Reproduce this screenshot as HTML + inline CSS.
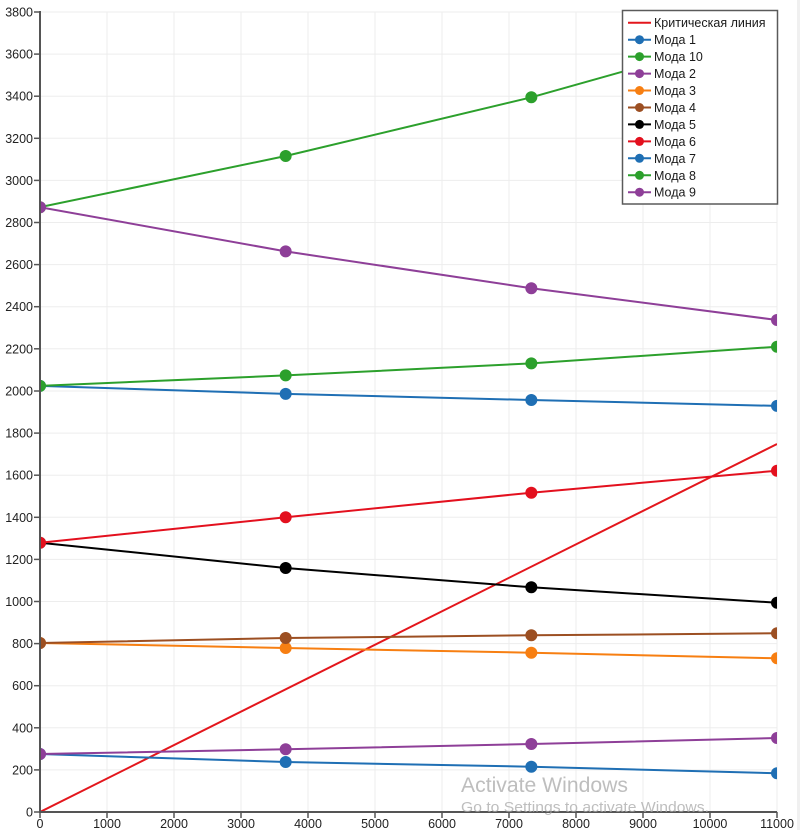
<!DOCTYPE html>
<html>
<head>
<meta charset="utf-8">
<style>
  html,body{margin:0;padding:0;background:#fff;}
  svg{display:block;}
  text{font-family:"Liberation Sans",Arial,sans-serif;}
</style>
</head>
<body>
<svg width="800" height="830" viewBox="0 0 800 830" xmlns="http://www.w3.org/2000/svg">
  <defs>
    <clipPath id="plot"><rect x="40" y="12" width="737" height="800"/></clipPath>
  </defs>
  <rect x="0" y="0" width="800" height="830" fill="#fff"/>
  <rect x="797" y="0" width="3" height="830" fill="#f0f0f0"/>

  <!-- grid -->
  <g stroke="#ededed" stroke-width="1">
    <line x1="40" x2="777" y1="769.9" y2="769.9"/>
    <line x1="40" x2="777" y1="727.8" y2="727.8"/>
    <line x1="40" x2="777" y1="685.7" y2="685.7"/>
    <line x1="40" x2="777" y1="643.6" y2="643.6"/>
    <line x1="40" x2="777" y1="601.5" y2="601.5"/>
    <line x1="40" x2="777" y1="559.4" y2="559.4"/>
    <line x1="40" x2="777" y1="517.3" y2="517.3"/>
    <line x1="40" x2="777" y1="475.2" y2="475.2"/>
    <line x1="40" x2="777" y1="433.1" y2="433.1"/>
    <line x1="40" x2="777" y1="391.0" y2="391.0"/>
    <line x1="40" x2="777" y1="348.8" y2="348.8"/>
    <line x1="40" x2="777" y1="306.7" y2="306.7"/>
    <line x1="40" x2="777" y1="264.6" y2="264.6"/>
    <line x1="40" x2="777" y1="222.5" y2="222.5"/>
    <line x1="40" x2="777" y1="180.4" y2="180.4"/>
    <line x1="40" x2="777" y1="138.3" y2="138.3"/>
    <line x1="40" x2="777" y1="96.2" y2="96.2"/>
    <line x1="40" x2="777" y1="54.1" y2="54.1"/>
    <line x1="40" x2="777" y1="12" y2="12"/>
    <line y1="12" y2="812" x1="107" x2="107"/>
    <line y1="12" y2="812" x1="174" x2="174"/>
    <line y1="12" y2="812" x1="241" x2="241"/>
    <line y1="12" y2="812" x1="308" x2="308"/>
    <line y1="12" y2="812" x1="375" x2="375"/>
    <line y1="12" y2="812" x1="442" x2="442"/>
    <line y1="12" y2="812" x1="509" x2="509"/>
    <line y1="12" y2="812" x1="576" x2="576"/>
    <line y1="12" y2="812" x1="643" x2="643"/>
    <line y1="12" y2="812" x1="710" x2="710"/>
    <line y1="12" y2="812" x1="777" x2="777"/>
  </g>

  <!-- series -->
  <g clip-path="url(#plot)" fill="none" stroke-width="2">
    <!-- critical line -->
    <line x1="40" y1="812" x2="777" y2="444" stroke="#e3161c"/>
    <!-- Moda 1 -->
    <g stroke="#1f6fb4" fill="#1f6fb4">
      <polyline fill="none" points="40,385.9 285.67,393.9 531.33,400 777,405.9"/>
      <circle cx="40" cy="385.9" r="5"/><circle cx="285.67" cy="393.9" r="5"/><circle cx="531.33" cy="400" r="5"/><circle cx="777" cy="405.9" r="5"/>
    </g>
    <!-- Moda 10 -->
    <g stroke="#2ca02c" fill="#2ca02c">
      <polyline fill="none" points="40,385.9 285.67,375.4 531.33,363.4 777,346.7"/>
      <circle cx="40" cy="385.9" r="5"/><circle cx="285.67" cy="375.4" r="5"/><circle cx="531.33" cy="363.4" r="5"/><circle cx="777" cy="346.7" r="5"/>
    </g>
    <!-- Moda 3 -->
    <g stroke="#f77f12" fill="#f77f12">
      <polyline fill="none" points="40,643 285.67,648 531.33,652.7 777,658.3"/>
      <circle cx="40" cy="643" r="5"/><circle cx="285.67" cy="648" r="5"/><circle cx="531.33" cy="652.7" r="5"/><circle cx="777" cy="658.3" r="5"/>
    </g>
    <!-- Moda 4 -->
    <g stroke="#9c4f22" fill="#9c4f22">
      <polyline fill="none" points="40,643 285.67,638 531.33,635.3 777,633.3"/>
      <circle cx="40" cy="643" r="5"/><circle cx="285.67" cy="638" r="5"/><circle cx="531.33" cy="635.3" r="5"/><circle cx="777" cy="633.3" r="5"/>
    </g>
    <!-- Moda 5 -->
    <g stroke="#000" fill="#000">
      <polyline fill="none" points="40,542.7 285.67,568 531.33,587.3 777,602.7"/>
      <circle cx="40" cy="542.7" r="5"/><circle cx="285.67" cy="568" r="5"/><circle cx="531.33" cy="587.3" r="5"/><circle cx="777" cy="602.7" r="5"/>
    </g>
    <!-- Moda 6 -->
    <g stroke="#e3101e" fill="#e3101e">
      <polyline fill="none" points="40,542.7 285.67,517.3 531.33,492.7 777,470.7"/>
      <circle cx="40" cy="542.7" r="5"/><circle cx="285.67" cy="517.3" r="5"/><circle cx="531.33" cy="492.7" r="5"/><circle cx="777" cy="470.7" r="5"/>
    </g>
    <!-- Moda 7 -->
    <g stroke="#1f6fb4" fill="#1f6fb4">
      <polyline fill="none" points="40,754 285.67,762 531.33,766.7 777,773.3"/>
      <circle cx="40" cy="754" r="5"/><circle cx="285.67" cy="762" r="5"/><circle cx="531.33" cy="766.7" r="5"/><circle cx="777" cy="773.3" r="5"/>
    </g>
    <!-- Moda 2 -->
    <g stroke="#8e3f98" fill="#8e3f98">
      <polyline fill="none" points="40,754 285.67,749.3 531.33,744 777,738"/>
      <circle cx="40" cy="754" r="5"/><circle cx="285.67" cy="749.3" r="5"/><circle cx="531.33" cy="744" r="5"/><circle cx="777" cy="738" r="5"/>
    </g>
    <!-- Moda 8 -->
    <g stroke="#2ca02c" fill="#2ca02c">
      <polyline fill="none" points="40,207.2 285.67,156 531.33,97.3 777,28.2"/>
      <circle cx="40" cy="207.2" r="5"/><circle cx="285.67" cy="156" r="5"/><circle cx="531.33" cy="97.3" r="5"/><circle cx="777" cy="28.2" r="5"/>
    </g>
    <!-- Moda 9 -->
    <g stroke="#8e3f98" fill="#8e3f98">
      <polyline fill="none" points="40,207.2 285.67,251.4 531.33,288.2 777,320"/>
      <circle cx="40" cy="207.2" r="5"/><circle cx="285.67" cy="251.4" r="5"/><circle cx="531.33" cy="288.2" r="5"/><circle cx="777" cy="320" r="5"/>
    </g>
  </g>

  <!-- axes -->
  <g stroke="#555" stroke-width="2" fill="none">
    <line x1="40" y1="11" x2="40" y2="813"/>
    <line x1="39" y1="812" x2="777" y2="812"/>
  </g>
  <g stroke="#555" stroke-width="1.5">
    <line x1="34" x2="40" y1="812" y2="812"/>
    <line x1="34" x2="40" y1="769.9" y2="769.9"/>
    <line x1="34" x2="40" y1="727.8" y2="727.8"/>
    <line x1="34" x2="40" y1="685.7" y2="685.7"/>
    <line x1="34" x2="40" y1="643.6" y2="643.6"/>
    <line x1="34" x2="40" y1="601.5" y2="601.5"/>
    <line x1="34" x2="40" y1="559.4" y2="559.4"/>
    <line x1="34" x2="40" y1="517.3" y2="517.3"/>
    <line x1="34" x2="40" y1="475.2" y2="475.2"/>
    <line x1="34" x2="40" y1="433.1" y2="433.1"/>
    <line x1="34" x2="40" y1="391.0" y2="391.0"/>
    <line x1="34" x2="40" y1="348.8" y2="348.8"/>
    <line x1="34" x2="40" y1="306.7" y2="306.7"/>
    <line x1="34" x2="40" y1="264.6" y2="264.6"/>
    <line x1="34" x2="40" y1="222.5" y2="222.5"/>
    <line x1="34" x2="40" y1="180.4" y2="180.4"/>
    <line x1="34" x2="40" y1="138.3" y2="138.3"/>
    <line x1="34" x2="40" y1="96.2" y2="96.2"/>
    <line x1="34" x2="40" y1="54.1" y2="54.1"/>
    <line x1="34" x2="40" y1="12" y2="12"/>
    <line y1="812" y2="818" x1="40" x2="40"/>
    <line y1="812" y2="818" x1="107" x2="107"/>
    <line y1="812" y2="818" x1="174" x2="174"/>
    <line y1="812" y2="818" x1="241" x2="241"/>
    <line y1="812" y2="818" x1="308" x2="308"/>
    <line y1="812" y2="818" x1="375" x2="375"/>
    <line y1="812" y2="818" x1="442" x2="442"/>
    <line y1="812" y2="818" x1="509" x2="509"/>
    <line y1="812" y2="818" x1="576" x2="576"/>
    <line y1="812" y2="818" x1="643" x2="643"/>
    <line y1="812" y2="818" x1="710" x2="710"/>
    <line y1="812" y2="818" x1="777" x2="777"/>
  </g>

  <!-- y labels -->
  <g font-size="12.5" fill="#222" text-anchor="end">
    <text x="33" y="816.5">0</text>
    <text x="33" y="774.4">200</text>
    <text x="33" y="732.3">400</text>
    <text x="33" y="690.2">600</text>
    <text x="33" y="648.1">800</text>
    <text x="33" y="606">1000</text>
    <text x="33" y="563.9">1200</text>
    <text x="33" y="521.8">1400</text>
    <text x="33" y="479.7">1600</text>
    <text x="33" y="437.6">1800</text>
    <text x="33" y="395.5">2000</text>
    <text x="33" y="353.3">2200</text>
    <text x="33" y="311.2">2400</text>
    <text x="33" y="269.1">2600</text>
    <text x="33" y="227">2800</text>
    <text x="33" y="184.9">3000</text>
    <text x="33" y="142.8">3200</text>
    <text x="33" y="100.7">3400</text>
    <text x="33" y="58.6">3600</text>
    <text x="33" y="16.5">3800</text>
  </g>
  <!-- x labels -->
  <g font-size="12.5" fill="#222" text-anchor="middle">
    <text x="40" y="828">0</text>
    <text x="107" y="828">1000</text>
    <text x="174" y="828">2000</text>
    <text x="241" y="828">3000</text>
    <text x="308" y="828">4000</text>
    <text x="375" y="828">5000</text>
    <text x="442" y="828">6000</text>
    <text x="509" y="828">7000</text>
    <text x="576" y="828">8000</text>
    <text x="643" y="828">9000</text>
    <text x="710" y="828">10000</text>
    <text x="777" y="828">11000</text>
  </g>

  <!-- legend -->
  <rect x="622.5" y="10.5" width="155" height="193.5" fill="#fff" stroke="#5a5a5a" stroke-width="1.5"/>
  <g stroke-width="2">
    <line x1="628" x2="651" y1="22.7" y2="22.7" stroke="#e3161c"/>
    <line x1="628" x2="651" y1="39.7" y2="39.7" stroke="#1f6fb4"/><circle cx="639.5" cy="39.7" r="4.5" fill="#1f6fb4"/>
    <line x1="628" x2="651" y1="56.6" y2="56.6" stroke="#2ca02c"/><circle cx="639.5" cy="56.6" r="4.5" fill="#2ca02c"/>
    <line x1="628" x2="651" y1="73.6" y2="73.6" stroke="#8e3f98"/><circle cx="639.5" cy="73.6" r="4.5" fill="#8e3f98"/>
    <line x1="628" x2="651" y1="90.5" y2="90.5" stroke="#f77f12"/><circle cx="639.5" cy="90.5" r="4.5" fill="#f77f12"/>
    <line x1="628" x2="651" y1="107.5" y2="107.5" stroke="#9c4f22"/><circle cx="639.5" cy="107.5" r="4.5" fill="#9c4f22"/>
    <line x1="628" x2="651" y1="124.4" y2="124.4" stroke="#000"/><circle cx="639.5" cy="124.4" r="4.5" fill="#000"/>
    <line x1="628" x2="651" y1="141.4" y2="141.4" stroke="#e3101e"/><circle cx="639.5" cy="141.4" r="4.5" fill="#e3101e"/>
    <line x1="628" x2="651" y1="158.3" y2="158.3" stroke="#1f6fb4"/><circle cx="639.5" cy="158.3" r="4.5" fill="#1f6fb4"/>
    <line x1="628" x2="651" y1="175.3" y2="175.3" stroke="#2ca02c"/><circle cx="639.5" cy="175.3" r="4.5" fill="#2ca02c"/>
    <line x1="628" x2="651" y1="192.2" y2="192.2" stroke="#8e3f98"/><circle cx="639.5" cy="192.2" r="4.5" fill="#8e3f98"/>
  </g>
  <g font-size="12.5" fill="#1a1a1a">
    <text x="654" y="27.2">Критическая линия</text>
    <text x="654" y="44.2">Мода 1</text>
    <text x="654" y="61.1">Мода 10</text>
    <text x="654" y="78.1">Мода 2</text>
    <text x="654" y="95">Мода 3</text>
    <text x="654" y="112">Мода 4</text>
    <text x="654" y="128.9">Мода 5</text>
    <text x="654" y="145.9">Мода 6</text>
    <text x="654" y="162.8">Мода 7</text>
    <text x="654" y="179.8">Мода 8</text>
    <text x="654" y="196.7">Мода 9</text>
  </g>

  <!-- watermark -->
  <g fill="#a8a8a8" fill-opacity="0.75">
    <text x="461" y="792" font-size="21" textLength="167" lengthAdjust="spacingAndGlyphs">Activate Windows</text>
    <text x="461" y="812" font-size="14.5" textLength="248" lengthAdjust="spacingAndGlyphs">Go to Settings to activate Windows.</text>
  </g>
</svg>
</body>
</html>
